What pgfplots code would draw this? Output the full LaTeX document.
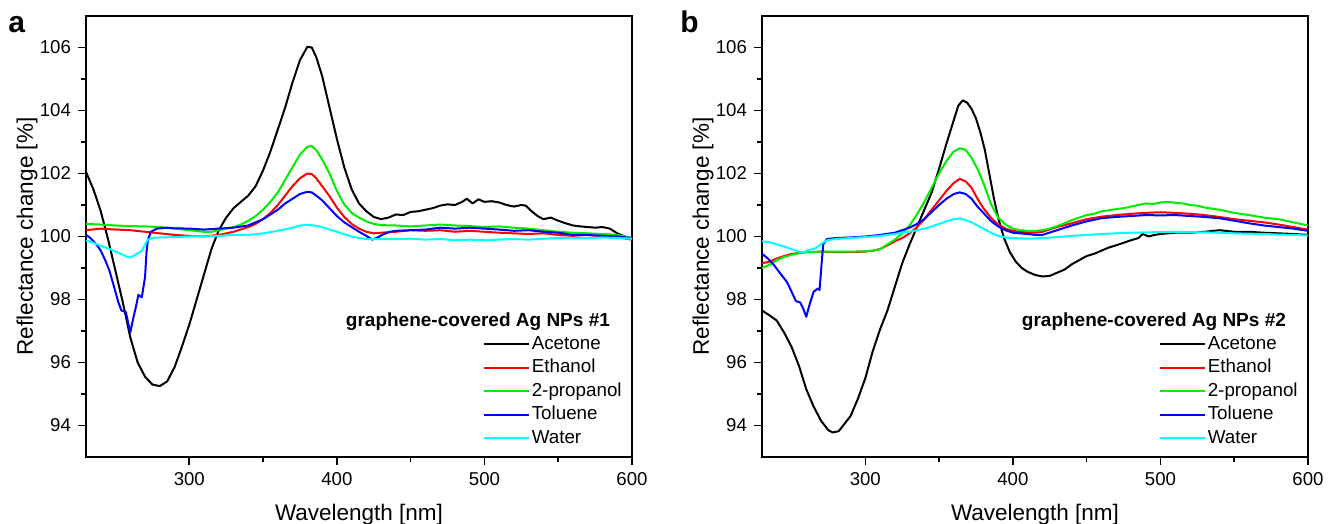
\documentclass[border=0pt]{standalone}
\usepackage{fontspec}
\setmainfont{Liberation Sans}
\usepackage{pgfplots}
\pgfplotsset{compat=1.18}
\definecolor{cA}{rgb}{0,0,0}
\definecolor{cE}{rgb}{1,0,0}
\definecolor{cP}{rgb}{0,0.93,0}
\definecolor{cT}{rgb}{0,0,1}
\definecolor{cW}{rgb}{0,1,1}
\pgfplotsset{
  panel/.style={
    scale only axis, width=273pt, height=220.5pt,
    xmin=230, xmax=600, ymin=93, ymax=107,
    xtick={300,400,500,600}, ytick={94,96,...,106},
    minor x tick num=1, minor y tick num=1,
    tick align=outside, xtick pos=bottom, ytick pos=left,
    major tick length=4pt, minor tick length=2.5pt,
    axis line style={line width=0.9pt},
    every tick/.style={black, line width=0.8pt},
    tick label style={font=\fontsize{9.3}{11}\selectfont},
    /pgf/number format/assume math mode=true,
    label style={font=\fontsize{11.25}{13}\selectfont},
    xlabel={Wavelength [nm]}, ylabel={Reflectance change [\%]},
    xlabel style={at={(axis description cs:0.5,-0.1451)}, anchor=base},
    ylabel style={at={(axis description cs:-0.0971,0.5)}, anchor=base},
    legend cell align=left,
    legend style={draw=none, fill=none, inner sep=0pt, row sep=0.75pt,
      font=\fontsize{9.4}{11}\selectfont,
      nodes={inner sep=1pt, text height=7pt, text depth=2pt},
      at={(rel axis cs:0.726,0.281)}, anchor=north west},
    legend image code/.code={\draw[#1] (0pt,0pt) -- (22.5pt,0pt);},
    every axis plot/.append style={line width=1pt, line join=round, mark=none},
  }
}
\begin{document}
\begin{tikzpicture}
% ---------------- panel a ----------------
\begin{axis}[panel, at={(43pt,33.5pt)}, anchor=south west]
\addplot[cA] coordinates {(230,102.05)(235,101.5)(240,100.8)(245,99.9)(250,98.9)(255,97.9)(260,96.8)(265,96.0)(270,95.55)(275,95.3)(280,95.25)(285,95.4)(290,95.85)(295,96.5)(300,97.2)(305,98.0)(310,98.8)(315,99.6)(320,100.2)(325,100.6)(330,100.9)(335,101.1)(340,101.3)(345,101.6)(350,102.1)(355,102.7)(360,103.4)(365,104.1)(370,104.9)(375,105.6)(380,106.02)(383,106.0)(386,105.7)(390,105.1)(395,104.1)(400,103.1)(405,102.2)(410,101.5)(415,101.05)(420,100.8)(425,100.62)(430,100.55)(435,100.6)(440,100.7)(445,100.68)(450,100.78)(455,100.8)(460,100.85)(465,100.9)(470,100.98)(475,101.02)(480,101.0)(485,101.1)(488,101.2)(492,101.05)(496,101.18)(500,101.1)(505,101.12)(510,101.08)(515,101.0)(520,100.95)(525,101.0)(528,100.98)(532,100.8)(536,100.65)(540,100.55)(545,100.6)(550,100.5)(555,100.42)(560,100.35)(565,100.32)(570,100.3)(575,100.28)(580,100.3)(585,100.25)(590,100.1)(595,100.0)(600,99.9)};
\addlegendentry{Acetone}
\addplot[cE] coordinates {(230,100.2)(240,100.25)(250,100.22)(260,100.2)(270,100.15)(280,100.1)(290,100.05)(300,100.02)(310,100.0)(320,100.05)(330,100.15)(340,100.3)(345,100.4)(350,100.55)(355,100.75)(360,101.0)(365,101.3)(370,101.6)(375,101.85)(380,102.0)(383,101.98)(386,101.85)(390,101.6)(395,101.28)(400,100.92)(405,100.62)(410,100.4)(415,100.25)(420,100.15)(425,100.1)(430,100.12)(440,100.15)(450,100.2)(460,100.18)(470,100.2)(480,100.15)(490,100.18)(500,100.15)(510,100.12)(520,100.1)(530,100.08)(540,100.1)(550,100.05)(560,100.02)(570,100.05)(580,100.0)(590,99.98)(600,99.9)};
\addlegendentry{Ethanol}
\addplot[cP] coordinates {(230,100.4)(240,100.38)(250,100.35)(260,100.33)(270,100.32)(280,100.3)(290,100.25)(300,100.2)(310,100.15)(315,100.15)(320,100.2)(325,100.25)(330,100.3)(335,100.38)(340,100.5)(345,100.65)(350,100.85)(355,101.1)(360,101.4)(365,101.8)(370,102.2)(375,102.6)(380,102.85)(383,102.87)(386,102.75)(390,102.45)(395,102.0)(400,101.45)(405,101.02)(410,100.75)(415,100.6)(420,100.48)(425,100.4)(430,100.36)(440,100.35)(450,100.32)(460,100.35)(470,100.38)(480,100.35)(490,100.33)(500,100.3)(510,100.32)(520,100.28)(530,100.25)(540,100.2)(550,100.15)(560,100.12)(570,100.1)(580,100.08)(590,100.05)(600,99.95)};
\addlegendentry{2-propanol}
\addplot[cT] coordinates {(230,100.05)(233,99.95)(237,99.75)(240,99.55)(243,99.25)(246,98.9)(249,98.4)(252,97.9)(254,97.65)(257,97.6)(260,96.95)(262,97.4)(264,97.8)(265.5,98.15)(267.8,98.07)(270,98.7)(271,99.5)(272,99.9)(274,100.15)(278,100.25)(285,100.28)(290,100.26)(300,100.25)(310,100.22)(320,100.25)(330,100.28)(340,100.35)(345,100.45)(350,100.55)(355,100.7)(360,100.85)(365,101.05)(370,101.2)(375,101.35)(380,101.42)(383,101.4)(386,101.3)(390,101.15)(395,100.9)(400,100.65)(405,100.45)(410,100.3)(415,100.15)(420,100.02)(424,99.9)(428,99.98)(432,100.08)(436,100.15)(440,100.18)(450,100.2)(460,100.22)(470,100.28)(480,100.25)(490,100.28)(500,100.25)(510,100.22)(520,100.18)(530,100.2)(540,100.15)(550,100.12)(560,100.05)(570,100.05)(580,100.02)(590,100.0)(600,99.95)};
\addlegendentry{Toluene}
\addplot[cW] coordinates {(230,99.87)(235,99.8)(240,99.7)(245,99.62)(250,99.52)(255,99.42)(258,99.35)(260,99.33)(263,99.4)(266,99.5)(268,99.55)(270,99.75)(272,99.9)(275,99.95)(280,99.97)(290,99.98)(300,100.0)(310,100.0)(320,100.02)(330,100.05)(340,100.05)(350,100.1)(360,100.18)(370,100.28)(375,100.35)(380,100.37)(385,100.35)(390,100.3)(395,100.22)(400,100.15)(405,100.07)(410,100.0)(415,99.95)(420,99.92)(430,99.92)(440,99.92)(450,99.93)(460,99.9)(470,99.92)(480,99.88)(490,99.9)(500,99.88)(510,99.9)(520,99.92)(530,99.9)(540,99.93)(550,99.95)(560,99.95)(570,99.95)(580,99.97)(590,99.95)(600,99.93)};
\addlegendentry{Water}
\node[anchor=east, font=\bfseries\fontsize{9.5}{11}\selectfont] at (rel axis cs:0.9725,0.306) {graphene-covered Ag NPs \#1};
\end{axis}
% ---------------- panel b ----------------
\begin{axis}[panel, at={(381pt,33.5pt)}, anchor=south west]
\addplot[cA] coordinates {(230,97.65)(235,97.5)(240,97.33)(245,96.95)(250,96.5)(255,95.9)(260,95.15)(265,94.6)(270,94.15)(275,93.85)(278,93.78)(282,93.82)(285,94.0)(290,94.3)(295,94.85)(300,95.5)(305,96.35)(310,97.05)(315,97.65)(320,98.4)(325,99.15)(330,99.75)(335,100.3)(340,100.85)(345,101.4)(350,102.15)(355,102.95)(360,103.7)(363,104.15)(366,104.32)(369,104.25)(372,104.05)(375,103.75)(378,103.3)(381,102.75)(384,102.0)(387,101.25)(390,100.6)(394,99.95)(398,99.5)(402,99.2)(406,99.0)(410,98.88)(415,98.78)(420,98.73)(425,98.75)(430,98.85)(435,98.95)(440,99.12)(445,99.25)(450,99.38)(455,99.45)(460,99.55)(465,99.65)(470,99.72)(475,99.8)(480,99.88)(485,99.95)(488,100.08)(492,100.0)(496,100.05)(500,100.08)(510,100.12)(520,100.12)(530,100.15)(540,100.2)(550,100.15)(560,100.15)(570,100.12)(580,100.1)(590,100.08)(600,100.05)};
\addlegendentry{Acetone}
\addplot[cE] coordinates {(230,99.15)(235,99.2)(240,99.3)(245,99.38)(250,99.45)(260,99.5)(270,99.52)(280,99.5)(290,99.5)(300,99.52)(305,99.55)(310,99.6)(315,99.72)(320,99.85)(325,99.95)(330,100.1)(335,100.3)(340,100.55)(345,100.85)(350,101.15)(355,101.45)(360,101.7)(364,101.83)(368,101.75)(372,101.55)(376,101.2)(380,100.9)(385,100.6)(390,100.38)(395,100.25)(400,100.18)(405,100.15)(410,100.13)(415,100.12)(420,100.15)(430,100.3)(440,100.42)(450,100.55)(460,100.63)(470,100.68)(480,100.72)(490,100.75)(500,100.77)(510,100.75)(520,100.72)(530,100.68)(540,100.62)(550,100.55)(560,100.5)(570,100.45)(580,100.38)(590,100.3)(600,100.22)};
\addlegendentry{Ethanol}
\addplot[cP] coordinates {(230,99.0)(235,99.1)(240,99.25)(245,99.35)(250,99.42)(255,99.47)(260,99.5)(270,99.52)(280,99.52)(290,99.52)(300,99.53)(305,99.55)(310,99.6)(315,99.75)(320,99.9)(325,100.1)(330,100.35)(335,100.7)(340,101.1)(345,101.55)(350,102.0)(355,102.4)(360,102.7)(364,102.8)(368,102.75)(372,102.5)(376,102.15)(380,101.7)(385,101.05)(390,100.6)(395,100.38)(400,100.25)(405,100.2)(410,100.18)(415,100.18)(420,100.2)(425,100.25)(430,100.33)(435,100.42)(440,100.52)(445,100.6)(450,100.68)(455,100.72)(460,100.8)(465,100.83)(470,100.87)(475,100.9)(480,100.95)(485,101.0)(490,101.05)(495,101.03)(500,101.08)(505,101.1)(510,101.07)(515,101.05)(520,101.0)(525,100.98)(530,100.92)(540,100.85)(550,100.75)(560,100.68)(570,100.6)(580,100.55)(590,100.45)(600,100.35)};
\addlegendentry{2-propanol}
\addplot[cT] coordinates {(230,99.45)(234,99.3)(238,99.1)(242,98.85)(247,98.55)(250,98.25)(253,97.95)(256,97.9)(258,97.7)(260,97.45)(262,97.8)(265,98.25)(268,98.35)(269,98.3)(270.5,99.2)(271.5,99.75)(274,99.92)(280,99.95)(290,99.97)(300,100.0)(310,100.05)(320,100.12)(325,100.2)(330,100.28)(335,100.4)(340,100.55)(345,100.78)(350,101.0)(355,101.2)(360,101.35)(364,101.4)(368,101.35)(372,101.2)(376,100.95)(380,100.75)(385,100.5)(390,100.32)(395,100.2)(400,100.12)(405,100.1)(410,100.08)(415,100.05)(420,100.05)(430,100.2)(440,100.35)(450,100.48)(460,100.58)(470,100.62)(480,100.65)(490,100.68)(500,100.67)(510,100.68)(520,100.65)(530,100.62)(540,100.58)(550,100.5)(560,100.42)(570,100.35)(580,100.3)(590,100.25)(600,100.18)};
\addlegendentry{Toluene}
\addplot[cW] coordinates {(230,99.85)(235,99.82)(240,99.75)(245,99.68)(250,99.6)(255,99.52)(258,99.5)(262,99.58)(265,99.6)(268,99.68)(271,99.8)(274,99.88)(280,99.92)(290,99.95)(300,99.98)(310,100.02)(320,100.08)(330,100.15)(340,100.25)(345,100.32)(350,100.4)(355,100.48)(360,100.55)(364,100.57)(368,100.52)(372,100.45)(376,100.35)(380,100.25)(385,100.12)(390,100.02)(395,99.97)(400,99.95)(410,99.93)(420,99.95)(430,99.98)(440,100.02)(450,100.05)(460,100.08)(470,100.1)(480,100.12)(490,100.13)(500,100.14)(510,100.15)(520,100.14)(530,100.13)(540,100.12)(550,100.1)(560,100.09)(570,100.08)(580,100.06)(590,100.05)(600,100.03)};
\addlegendentry{Water}
\node[anchor=east, font=\bfseries\fontsize{9.5}{11}\selectfont] at (rel axis cs:0.9725,0.306) {graphene-covered Ag NPs \#2};
\end{axis}
\node[anchor=base west, font=\bfseries\fontsize{15}{15}\selectfont, inner sep=0pt] at (4pt,245.5pt) {a};
\node[anchor=base west, font=\bfseries\fontsize{15}{15}\selectfont, inner sep=0pt] at (340pt,245.5pt) {b};
\pgfresetboundingbox
\useasboundingbox (0pt,0pt) rectangle (667.5pt,262pt);
\end{tikzpicture}
\end{document}
